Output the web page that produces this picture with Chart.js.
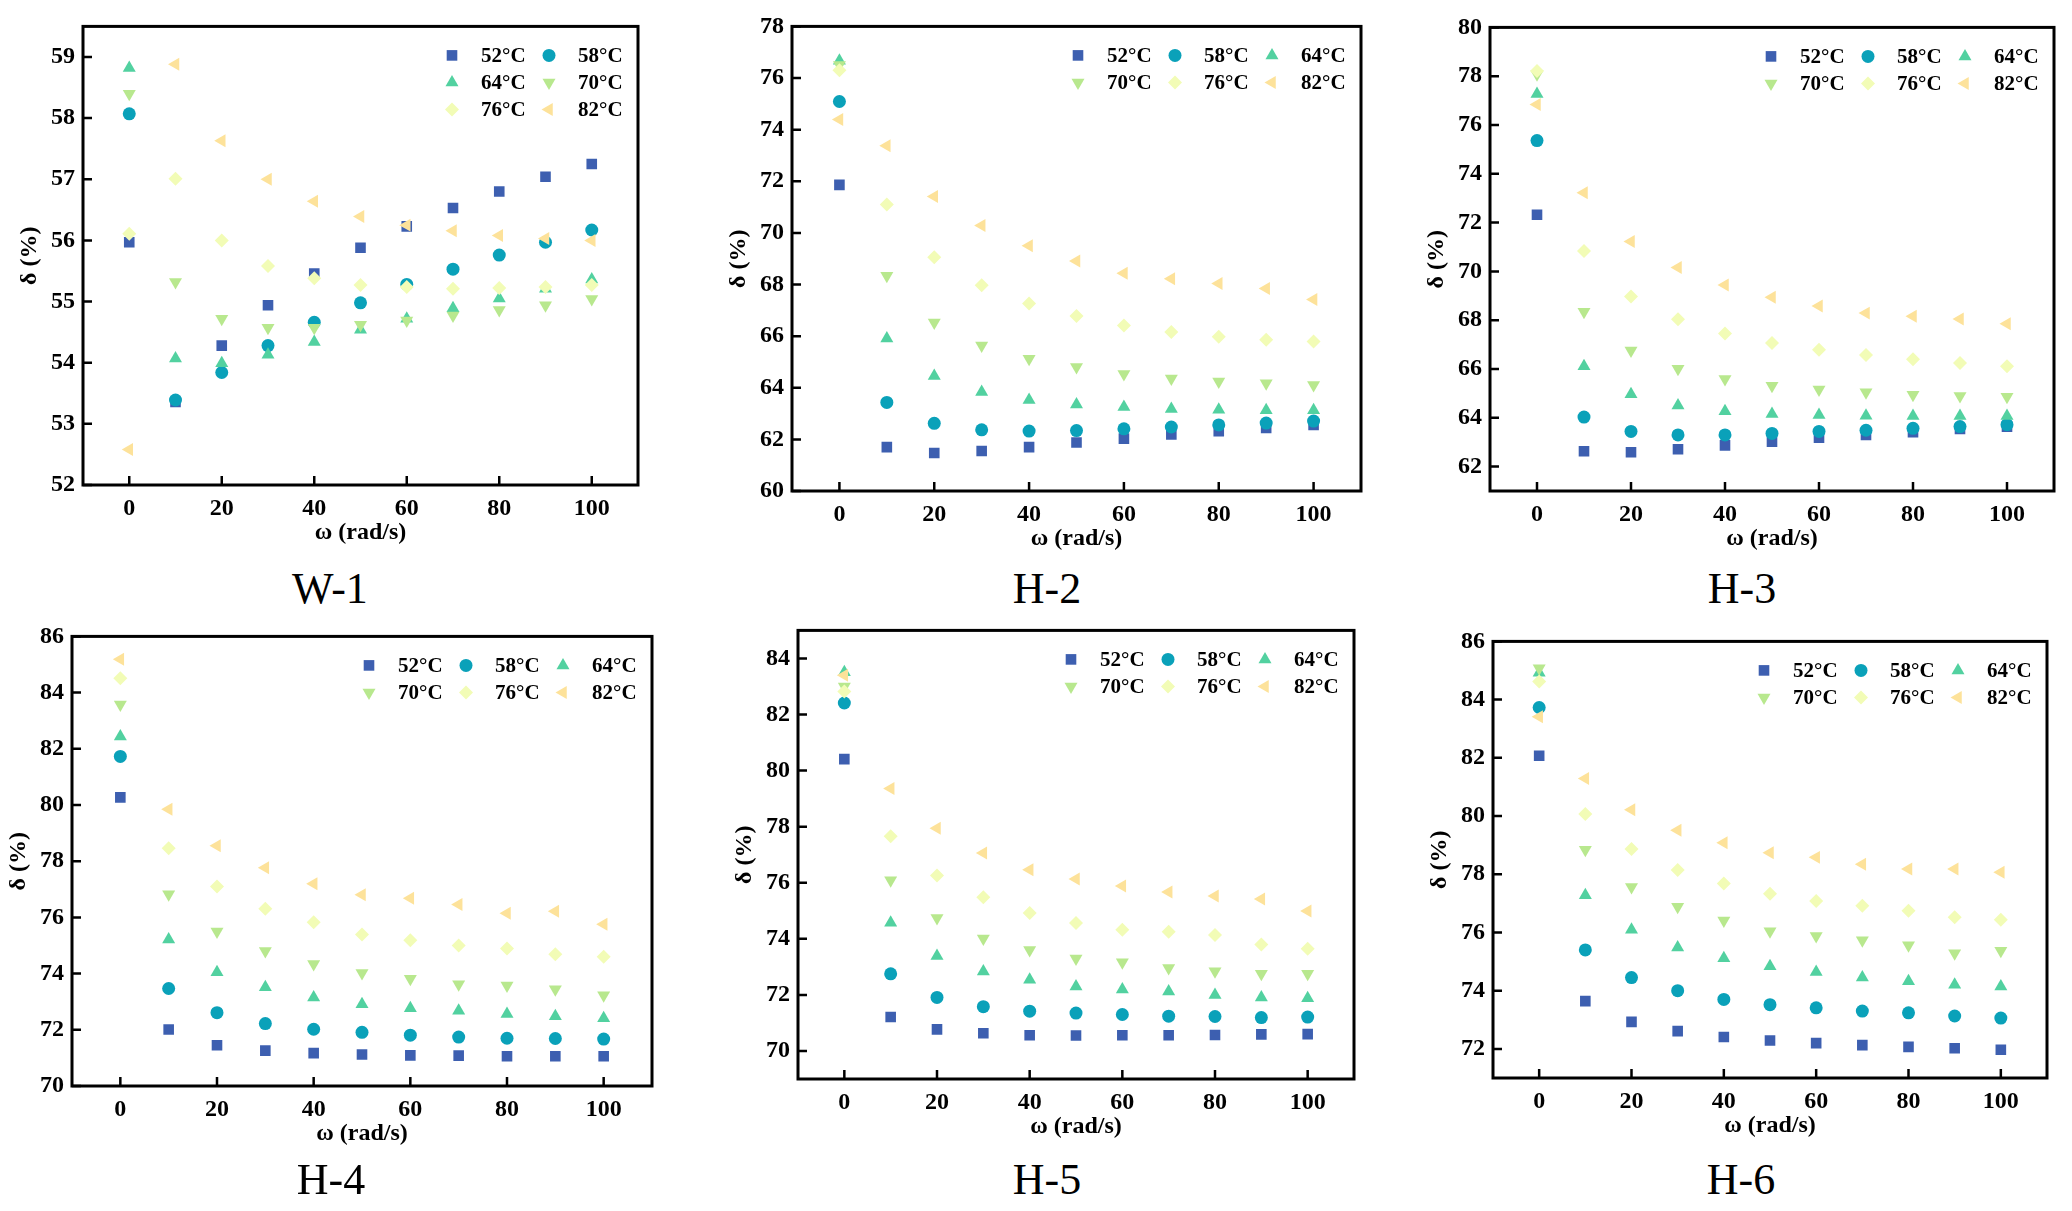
<!DOCTYPE html>
<html>
<head>
<meta charset="utf-8">
<title>Phase angle vs angular frequency</title>
<script src="https://cdn.jsdelivr.net/npm/chart.js@4.4.0/dist/chart.umd.min.js"></script>
<style>
  html, body { margin: 0; padding: 0; background: #fff; }
  body { width: 2072px; height: 1211px; position: relative; overflow: hidden;
         font-family: "Liberation Serif", "Times New Roman", serif; }
  .panel { position: absolute; }
  .panel-title { position: absolute; font-size: 44px; line-height: 1; color: #000;
                 transform: translate(-50%, -50%); white-space: nowrap; }
</style>
</head>
<body>
<script>
// Shared axis data
const omega = [0, 10, 20, 30, 40, 50, 60, 70, 80, 90, 100];
const tempLabels = ['52°C', '58°C', '64°C', '70°C', '76°C', '82°C'];
const xTicks = [0, 20, 40, 60, 80, 100];

// δ (%) per temperature, rows follow tempLabels
const deltaW1 = [
    [55.97, 53.36, 54.28, 54.94, 55.46, 55.88, 56.23, 56.53, 56.80, 57.04, 57.25],
    [58.07, 53.39, 53.84, 54.28, 54.66, 54.98, 55.28, 55.53, 55.76, 55.97, 56.17],
    [58.82, 54.07, 53.99, 54.13, 54.34, 54.54, 54.72, 54.89, 55.05, 55.21, 55.36],
    [58.40, 55.32, 54.72, 54.57, 54.57, 54.62, 54.69, 54.77, 54.86, 54.94, 55.04],
    [56.11, 57.01, 56.00, 55.58, 55.38, 55.27, 55.24, 55.21, 55.22, 55.24, 55.27],
    [52.58, 58.88, 57.63, 57.00, 56.64, 56.39, 56.25, 56.16, 56.08, 56.03, 56.00]
];
const deltaH2 = [
    [71.86, 61.70, 61.47, 61.55, 61.70, 61.88, 62.03, 62.19, 62.32, 62.44, 62.56],
    [75.09, 63.43, 62.62, 62.37, 62.32, 62.34, 62.41, 62.48, 62.56, 62.63, 62.71],
    [76.67, 65.91, 64.46, 63.84, 63.53, 63.35, 63.25, 63.18, 63.15, 63.13, 63.13],
    [76.50, 68.34, 66.53, 65.64, 65.12, 64.80, 64.53, 64.36, 64.24, 64.17, 64.11],
    [76.30, 71.10, 69.06, 67.97, 67.26, 66.78, 66.41, 66.16, 65.98, 65.86, 65.79],
    [74.39, 73.38, 71.41, 70.29, 69.50, 68.91, 68.44, 68.22, 68.04, 67.85, 67.42]
];
const deltaH3 = [
    [72.32, 62.63, 62.59, 62.71, 62.87, 63.02, 63.18, 63.30, 63.41, 63.54, 63.64],
    [75.36, 64.03, 63.44, 63.30, 63.30, 63.36, 63.44, 63.49, 63.57, 63.64, 63.72],
    [77.27, 66.11, 64.97, 64.50, 64.27, 64.16, 64.11, 64.08, 64.07, 64.07, 64.07],
    [78.08, 68.35, 66.76, 66.01, 65.59, 65.31, 65.16, 65.05, 64.94, 64.89, 64.86],
    [78.21, 70.84, 68.97, 68.04, 67.46, 67.07, 66.79, 66.57, 66.40, 66.25, 66.11],
    [76.84, 73.22, 71.23, 70.16, 69.44, 68.94, 68.58, 68.29, 68.16, 68.05, 67.85]
];
const deltaH4 = [
    [80.27, 72.01, 71.45, 71.26, 71.17, 71.12, 71.09, 71.08, 71.06, 71.06, 71.06],
    [81.73, 73.47, 72.61, 72.22, 72.02, 71.91, 71.81, 71.74, 71.70, 71.69, 71.67],
    [82.44, 75.21, 74.05, 73.51, 73.15, 72.91, 72.77, 72.68, 72.56, 72.48, 72.41],
    [83.58, 76.82, 75.50, 74.80, 74.34, 74.02, 73.82, 73.62, 73.58, 73.44, 73.23],
    [84.51, 78.46, 77.10, 76.31, 75.83, 75.39, 75.19, 75.00, 74.89, 74.69, 74.60],
    [85.19, 79.85, 78.55, 77.77, 77.20, 76.81, 76.68, 76.46, 76.15, 76.22, 75.76]
];
const deltaH5 = [
    [80.41, 71.21, 70.77, 70.63, 70.56, 70.55, 70.56, 70.56, 70.57, 70.59, 70.60],
    [82.41, 72.75, 71.91, 71.58, 71.42, 71.35, 71.30, 71.24, 71.23, 71.19, 71.21],
    [83.51, 74.57, 73.39, 72.83, 72.54, 72.30, 72.19, 72.12, 72.00, 71.91, 71.88],
    [83.00, 76.09, 74.74, 74.01, 73.60, 73.30, 73.16, 72.96, 72.84, 72.75, 72.75],
    [82.82, 77.66, 76.26, 75.48, 74.92, 74.56, 74.32, 74.25, 74.14, 73.80, 73.65],
    [83.40, 79.36, 77.94, 77.06, 76.46, 76.13, 75.88, 75.67, 75.53, 75.42, 74.99]
];
const deltaH6 = [
    [82.07, 73.64, 72.93, 72.61, 72.41, 72.29, 72.20, 72.13, 72.07, 72.02, 71.97],
    [83.73, 75.40, 74.45, 74.00, 73.70, 73.52, 73.41, 73.30, 73.24, 73.13, 73.06],
    [84.92, 77.28, 76.09, 75.48, 75.11, 74.84, 74.64, 74.45, 74.32, 74.20, 74.14],
    [85.08, 78.84, 77.56, 76.88, 76.41, 76.04, 75.88, 75.73, 75.56, 75.29, 75.37],
    [84.62, 80.07, 78.87, 78.15, 77.68, 77.33, 77.08, 76.92, 76.75, 76.52, 76.44],
    [83.41, 81.29, 80.22, 79.51, 79.08, 78.74, 78.58, 78.34, 78.18, 78.18, 78.07]
];

// y tick labels per panel
const yTicksW1 = [52, 53, 54, 55, 56, 57, 58, 59];
const yTicksH2 = [60, 62, 64, 66, 68, 70, 72, 74, 76, 78];
const yTicksH3 = [62, 64, 66, 68, 70, 72, 74, 76, 78, 80];
const yTicksH4 = [70, 72, 74, 76, 78, 80, 82, 84, 86];
const yTicksH5 = [70, 72, 74, 76, 78, 80, 82, 84];
const yTicksH6 = [72, 74, 76, 78, 80, 82, 84, 86];

// Marker styling per series
const seriesColors = ['#3d5fb0', '#0aa1b9', '#52d1a0', '#b8e88e', '#f2fcb6', '#fde29a'];
const markerStyles = ['rect', 'circle', 'triangle', 'triangle', 'rectRot', 'triangle'];
const markerRotation = [0, 0, 0, 180, 0, -90];
const markerRadius = [7.5, 6.5, 7.5, 7.5, 7, 7.5];

const FONT = '"Liberation Serif", "Times New Roman", serif';
const PAD = { l: 80, t: 20, r: 20, b: 72 };

// Plot-area rectangles (page pixels) and panel captions
const panels = [
    { title: 'W-1', data: deltaW1, yTicks: yTicksW1, yMin: 52, yMax: 59.5, cols: 2,
      box: { l: 83, t: 24, r: 638, b: 485 }, cap: { x: 330, y: 589 } },
    { title: 'H-2', data: deltaH2, yTicks: yTicksH2, yMin: 60, yMax: 78, cols: 3,
      box: { l: 792, t: 24, r: 1361, b: 491 }, cap: { x: 1047, y: 589 } },
    { title: 'H-3', data: deltaH3, yTicks: yTicksH3, yMin: 61, yMax: 80, cols: 3,
      box: { l: 1490, t: 25, r: 2054, b: 491 }, cap: { x: 1742, y: 589 } },
    { title: 'H-4', data: deltaH4, yTicks: yTicksH4, yMin: 70, yMax: 86, cols: 3,
      box: { l: 72, t: 634, r: 652, b: 1086 }, cap: { x: 331, y: 1180 } },
    { title: 'H-5', data: deltaH5, yTicks: yTicksH5, yMin: 69, yMax: 85, cols: 3,
      box: { l: 798, t: 628, r: 1354, b: 1079 }, cap: { x: 1047, y: 1180 } },
    { title: 'H-6', data: deltaH6, yTicks: yTicksH6, yMin: 71, yMax: 86, cols: 3,
      box: { l: 1493, t: 639, r: 2047, b: 1078 }, cap: { x: 1741, y: 1180 } }
];

/**
 * Frame with inward ticks on the bottom and left axes
 */
const framePlugin = {
    id: 'frame',
    afterDraw(chart) {
        const { ctx, chartArea: a, scales } = chart;
        ctx.save();
        ctx.strokeStyle = '#000';
        ctx.lineWidth = 2.5;
        ctx.beginPath();
        xTicks.forEach(v => {
            const x = scales.x.getPixelForValue(v);
            ctx.moveTo(x, a.bottom);
            ctx.lineTo(x, a.bottom - 9);
        });
        chart.options.plugins.frame.yTicks.forEach(v => {
            const y = scales.y.getPixelForValue(v);
            ctx.moveTo(a.left, y);
            ctx.lineTo(a.left + 9, y);
        });
        ctx.stroke();
        ctx.lineWidth = 3;
        ctx.strokeRect(a.left, a.top, a.right - a.left, a.bottom - a.top);
        ctx.restore();
    }
};

/**
 * Grid legend in the top right corner of the plot area
 */
const cornerLegend = {
    id: 'cornerLegend',
    afterDraw(chart) {
        const { ctx, chartArea: a } = chart;
        const cols = chart.options.plugins.cornerLegend.cols;
        ctx.save();
        ctx.font = 'bold 21px ' + FONT;
        ctx.textBaseline = 'middle';
        ctx.textAlign = 'left';
        tempLabels.forEach((lab, i) => {
            const c = i % cols, r = Math.floor(i / cols);
            const mx = a.right - 89 - (cols - 1 - c) * 97;
            const my = a.top + 29 + r * 27;
            ctx.fillStyle = seriesColors[i];
            ctx.strokeStyle = seriesColors[i];
            Chart.helpers.drawPoint(ctx, {
                pointStyle: markerStyles[i],
                rotation: markerRotation[i],
                radius: markerRadius[i],
                borderWidth: 0
            }, mx, my);
            ctx.fillStyle = '#000';
            ctx.fillText(lab, mx + 29, my + 1);
        });
        ctx.restore();
    }
};

function makePanel(p) {
    const b = p.box;
    const w = b.r - b.l + PAD.l + PAD.r;
    const h = b.b - b.t + PAD.t + PAD.b;

    const wrap = document.createElement('div');
    wrap.className = 'panel';
    wrap.style.left = (b.l - PAD.l) + 'px';
    wrap.style.top = (b.t - PAD.t) + 'px';
    wrap.style.width = w + 'px';
    wrap.style.height = h + 'px';
    const canvas = document.createElement('canvas');
    canvas.width = w;
    canvas.height = h;
    wrap.appendChild(canvas);
    document.body.appendChild(wrap);

    const cap = document.createElement('div');
    cap.className = 'panel-title';
    cap.style.left = p.cap.x + 'px';
    cap.style.top = p.cap.y + 'px';
    cap.textContent = p.title;
    document.body.appendChild(cap);

    const tickFont = { family: FONT, size: 24, weight: 'bold' };
    const titleFont = { family: FONT, size: 24, weight: 'bold' };

    new Chart(canvas, {
        type: 'scatter',
        data: {
            datasets: tempLabels.map((lab, i) => ({
                label: lab,
                data: omega.map((x, j) => ({ x: x, y: p.data[i][j] })),
                pointStyle: markerStyles[i],
                rotation: markerRotation[i],
                pointRadius: markerRadius[i],
                pointHoverRadius: markerRadius[i],
                backgroundColor: seriesColors[i],
                borderColor: seriesColors[i],
                borderWidth: 0,
                order: tempLabels.length - i
            }))
        },
        plugins: [framePlugin, cornerLegend],
        options: {
            responsive: false,
            animation: false,
            devicePixelRatio: 1,
            layout: { padding: { left: 0, top: PAD.t, right: PAD.r, bottom: 0 } },
            plugins: {
                legend: { display: false },
                tooltip: { enabled: false },
                frame: { yTicks: p.yTicks },
                cornerLegend: { cols: p.cols }
            },
            scales: {
                x: {
                    type: 'linear',
                    min: -10,
                    max: 110,
                    afterBuildTicks: axis => { axis.ticks = xTicks.map(v => ({ value: v })); },
                    afterFit: axis => { axis.height = PAD.b; },
                    grid: { display: false, drawTicks: false },
                    border: { display: false },
                    ticks: { font: tickFont, color: '#000', padding: 9, maxRotation: 0, autoSkip: false },
                    title: {
                        display: true, text: 'ω (rad/s)', color: '#000',
                        font: titleFont,
                        padding: { top: 0, bottom: 10 }
                    }
                },
                y: {
                    type: 'linear',
                    min: p.yMin,
                    max: p.yMax,
                    afterBuildTicks: axis => { axis.ticks = p.yTicks.map(v => ({ value: v })); },
                    afterFit: axis => { axis.width = PAD.l; },
                    grid: { display: false, drawTicks: false },
                    border: { display: false },
                    ticks: { font: tickFont, color: '#000', padding: 8, autoSkip: false },
                    title: {
                        display: true, text: 'δ (%)', color: '#000',
                        font: titleFont,
                        padding: { top: 12, bottom: 0 }
                    }
                }
            }
        }
    });
}

panels.forEach(makePanel);
</script>
</body>
</html>
